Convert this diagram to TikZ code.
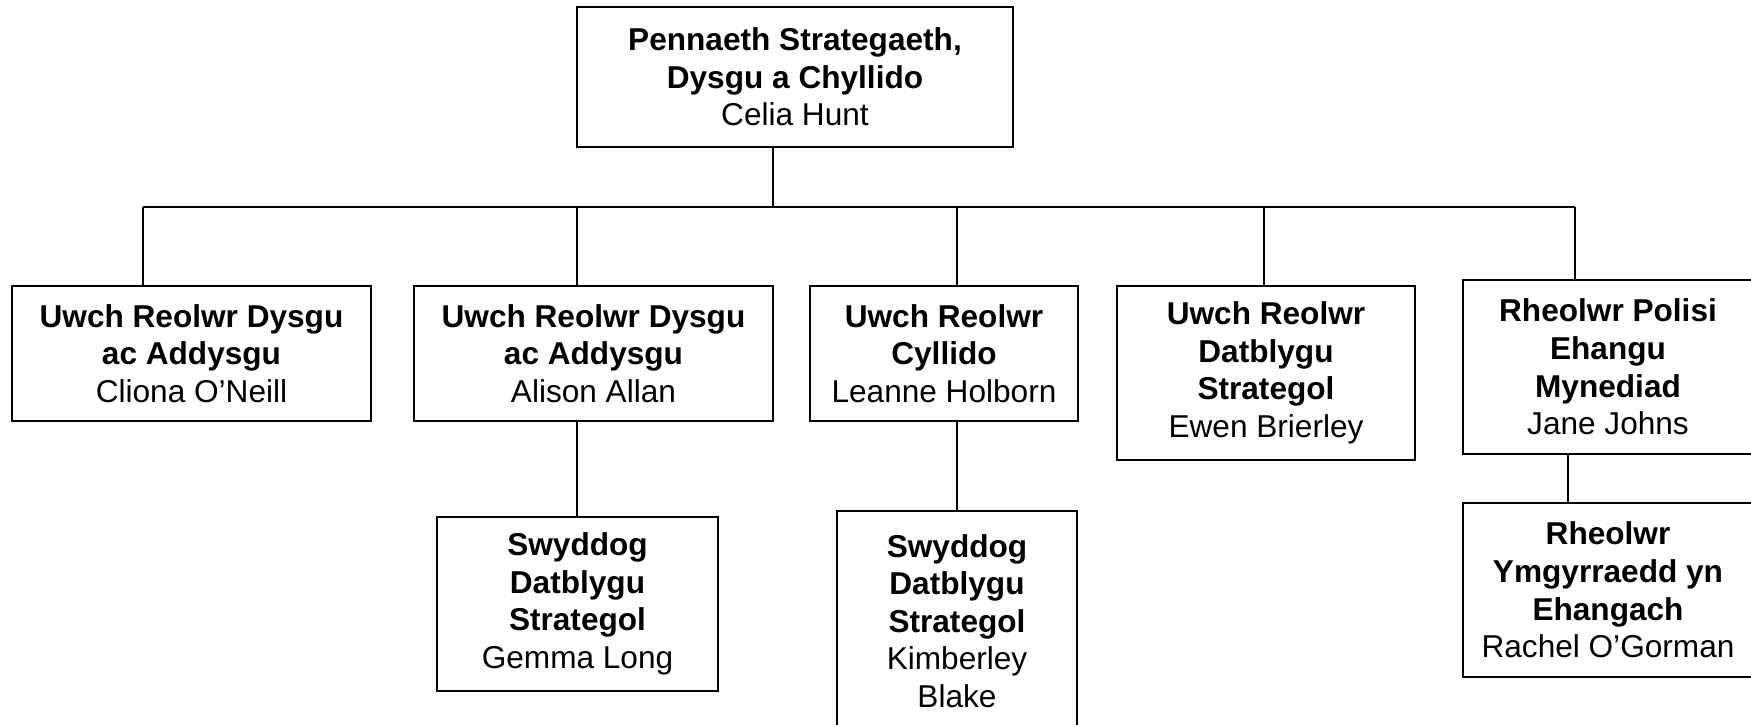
\documentclass[tikz,border=0pt]{standalone}
\usepackage{fontspec}
\setmainfont{Liberation Sans}
\begin{document}
\begin{tikzpicture}[x=0.5pt,y=-0.5pt]
\tikzstyle{post}=[draw,line width=1pt,align=center,inner sep=0pt,font=\fontsize{15.8}{18.8}\selectfont]
\tikzstyle{link}=[line width=1pt]
\clip (0,0) rectangle (1751,724);
\node[post,minimum width=218pt,minimum height=70pt] (v0) at (795,77) {\textbf{Pennaeth Strategaeth,}\\\textbf{Dysgu a Chyllido}\\Celia Hunt};
\node[post,minimum width=179.5pt,minimum height=67.5pt] (v1) at (191.5,353.5) {\textbf{Uwch Reolwr Dysgu}\\\textbf{ac Addysgu}\\Cliona O’Neill};
\node[post,minimum width=179.5pt,minimum height=67.5pt] (v2) at (593.5,353.5) {\textbf{Uwch Reolwr Dysgu}\\\textbf{ac Addysgu}\\Alison Allan};
\node[post,minimum width=134pt,minimum height=67.5pt] (v3) at (944,353.5) {\textbf{Uwch Reolwr}\\\textbf{Cyllido}\\Leanne Holborn};
\node[post,minimum width=149pt,minimum height=87pt] (v4) at (1266,373) {\textbf{Uwch Reolwr}\\\textbf{Datblygu}\\\textbf{Strategol}\\Ewen Brierley};
\node[post,minimum width=145pt,minimum height=87pt] (v5) at (1608,367) {\textbf{Rheolwr Polisi}\\\textbf{Ehangu}\\\textbf{Mynediad}\\Jane Johns};
\node[post,minimum width=140.5pt,minimum height=87pt] (v6) at (577.5,604) {\textbf{Swyddog}\\\textbf{Datblygu}\\\textbf{Strategol}\\Gemma Long};
\node[post,minimum width=120pt,minimum height=110pt] (v7) at (957,621) {\textbf{Swyddog}\\\textbf{Datblygu}\\\textbf{Strategol}\\Kimberley\\Blake};
\node[post,minimum width=145pt,minimum height=87pt] (v8) at (1608,590) {\textbf{Rheolwr}\\\textbf{Ymgyrraedd yn}\\\textbf{Ehangach}\\Rachel O’Gorman};
% bus
\coordinate (j) at (773,207);
\coordinate (b1) at (143,207);
\coordinate (b2) at (577,207);
\coordinate (b3) at (957,207);
\coordinate (b4) at (1264,207);
\coordinate (b5) at (1575,207);
\coordinate (k) at (1568,0);
\draw[link] (v0.south -| j) -- (j);
\draw[link] (b1) -- (b5);
\draw[link] (b1) -- (b1 |- v1.north);
\draw[link] (b2) -- (b2 |- v2.north);
\draw[link] (b3) -- (b3 |- v3.north);
\draw[link] (b4) -- (b4 |- v4.north);
\draw[link] (b5) -- (b5 |- v5.north);
\draw[link] (v2.south -| b2) -- (v6.north -| b2);
\draw[link] (v3.south -| b3) -- (v7.north -| b3);
\draw[link] (v5.south -| k) -- (v8.north -| k);
\end{tikzpicture}
\end{document}
